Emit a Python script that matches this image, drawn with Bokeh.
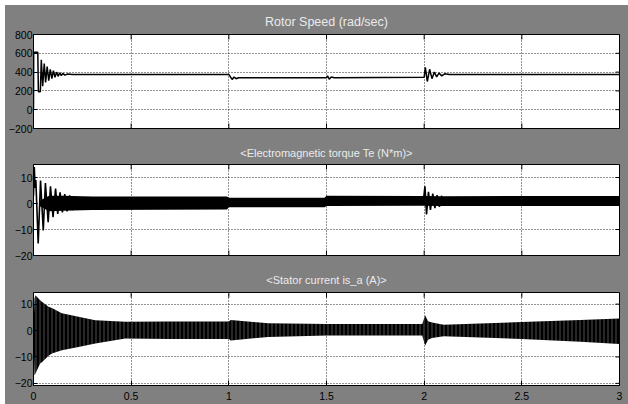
import math
from bokeh.plotting import figure
from bokeh.layouts import column
from bokeh.models import Range1d, FixedTicker, LinearAxis, Title, Grid
from bokeh.embed import file_html
from bokeh.resources import INLINE

# ---------------- data ----------------
x_ticks = [0, 0.5, 1, 1.5, 2, 2.5, 3]
x_tick_labels = ["0", "0.5", "1", "1.5", "2", "2.5", "3"]

titles = ["Rotor Speed (rad/sec)",
          "<Electromagnetic torque Te (N*m)>",
          "<Stator current is_a (A)>"]

speed_ticks = [-200, 0, 200, 400, 600, 800]
torque_ticks = [-20, -10, 0, 10]
current_ticks = [-20, -10, 0, 10]

# Rotor speed trace (s, rad/sec)
speed_t = [0, 0.001, 0.022, 0.025, 0.035, 0.04, 0.047, 0.055, 0.062, 0.07, 0.078,
           0.086, 0.094, 0.102, 0.11, 0.118, 0.126, 0.134, 0.142, 0.15, 0.16,
           0.175, 0.2, 1.0, 1.008, 1.017, 1.027, 1.037, 1.05, 1.5, 1.505, 1.514,
           1.525, 1.54, 2.0, 2.006, 2.016, 2.028, 2.04, 2.052, 2.064, 2.076,
           2.09, 2.105, 2.13, 3.0]
speed_w = [0, 610, 610, 190, 190, 530, 250, 490, 290, 460, 310,
           430, 330, 415, 345, 400, 355, 393, 362, 386, 368,
           380, 375, 375, 350, 322, 348, 330, 340, 340, 360, 325,
           348, 340, 345, 450, 300, 430, 330, 400, 350, 390,
           360, 382, 375, 375]

# Torque: large start-up swings (s, N*m)
torque_start_t = [0, 0.004, 0.008, 0.012, 0.024, 0.036, 0.05, 0.061, 0.075, 0.087,
                  0.1, 0.113, 0.124, 0.136, 0.148, 0.16, 0.172, 0.185, 0.2]
torque_start_v = [3, 14, 6, 9, -15.4, 8.8, -10.4, 7.9, -7.2, 6.6,
                  -5.3, 5.7, -4.0, 4.3, -3.4, 3.6, -3.0, 3.1, -2.6]
# Torque: transient at t = 2 s
torque_step_t = [1.998, 2.004, 2.012, 2.022, 2.032, 2.044, 2.055, 2.066, 2.078, 2.09]
torque_step_v = [2.5, 6.6, -4.2, 4.5, -2.5, 3.8, -1.8, 3.2, -1.3, 3.0]
# Torque: ripple band envelope
torque_band_t = [0.03, 0.08, 0.15, 0.3, 0.99, 1.0, 1.49, 1.5, 1.99, 2.07, 3.0]
torque_band_hi = [1.0, 3.0, 3.0, 2.7, 2.7, 2.2, 2.2, 3.0, 2.9, 2.8, 2.9]
torque_band_lo = [-1.0, -3.0, -2.8, -2.5, -2.3, -1.4, -1.4, -1.0, -0.9, -1.0, -1.0]

# Stator current envelope (s, A)
current_t = [0, 0.005, 0.01, 0.034, 0.043, 0.077, 0.094, 0.145, 0.23, 0.316, 0.47,
             0.7, 1.0, 1.01, 1.2, 1.5, 1.99, 2.005, 2.02, 2.04, 2.1, 2.5, 2.8, 3.0]
current_hi = [0, 12, 13.4, 11.5, 10.9, 9.0, 8.5, 6.5, 5.2, 3.9, 3.3,
              3.4, 3.4, 4.0, 2.8, 2.5, 2.5, 5.7, 3.5, 3.0, 2.2, 3.2, 4.0, 4.6]
current_lo = [0, -17, -16.3, -12.5, -12, -9.5, -8.7, -7.5, -6.2, -4.9, -3.0,
              -3.2, -3.2, -3.8, -2.4, -1.9, -1.9, -5.7, -3.5, -2.8, -2.2, -3.2, -4.2, -5.1]

# ---------------- styling helpers ----------------
FONT = "'Liberation Sans'"
GRAY = "#808080"


def make_panel(title, yr, yticks, height, top, bottom, show_x_labels, title_size, standoff):
    p = figure(width=623, height=height, output_backend="svg", toolbar_location=None,
               x_range=Range1d(0, 3), y_range=Range1d(*yr),
               x_axis_type=None, y_axis_type=None,
               min_border_left=28, min_border_right=9,
               min_border_top=top, min_border_bottom=bottom)
    p.background_fill_color = "white"
    p.border_fill_color = GRAY
    p.outline_line_color = "black"
    p.outline_line_width = 1

    p.title = Title(text=title, align="center", text_color="#ebebeb",
                    text_font=FONT, text_font_style="normal",
                    text_font_size=title_size, standoff=standoff,
                    vertical_align="bottom")

    # left axis with labels, ticks pointing inside
    ax = LinearAxis(ticker=FixedTicker(ticks=yticks))
    ax.major_tick_in = 4
    ax.major_tick_out = 0
    ax.minor_tick_in = 0
    ax.minor_tick_out = 0
    ax.axis_line_color = None
    ax.axis_label_standoff = 0
    ax.major_label_text_font = FONT
    ax.major_label_text_font_size = "10.5px"
    ax.major_label_text_color = "black"
    ax.major_label_standoff = 1
    p.add_layout(ax, "left")

    if show_x_labels:
        bx = LinearAxis(ticker=FixedTicker(ticks=x_ticks))
        bx.major_label_overrides = {t: s for t, s in zip(x_ticks, x_tick_labels)}
        bx.major_tick_in = 5
        bx.major_tick_out = 0
        bx.minor_tick_in = 0
        bx.minor_tick_out = 0
        bx.axis_line_color = None
        bx.axis_label_standoff = 0
        bx.major_label_text_font = FONT
        bx.major_label_text_font_size = "10.5px"
        bx.major_label_text_color = "black"
        bx.major_label_standoff = 6
        p.add_layout(bx, "below")
    else:
        # inner ticks on the bottom edge (clipped to the frame)
        p.scatter(x=x_ticks, y=[yr[0]] * len(x_ticks), marker="dash",
                  angle=math.pi / 2, size=10, line_color="black", line_width=1)
    # inner ticks on top and right edges (clipped to the frame)
    p.scatter(x=x_ticks, y=[yr[1]] * len(x_ticks), marker="dash",
              angle=math.pi / 2, size=10, line_color="black", line_width=1)
    p.scatter(x=[3] * len(yticks), y=yticks, marker="dash",
              size=8, line_color="black", line_width=1)

    for dim, ticks in ((0, x_ticks), (1, yticks)):
        g = Grid(dimension=dim, ticker=FixedTicker(ticks=ticks))
        g.grid_line_color = "black"
        g.grid_line_dash = "1 2"
        g.grid_line_alpha = 0.85
        p.add_layout(g)
    return p


p1 = make_panel(titles[0], (-200, 800), speed_ticks, 132, 29, 9, False, "12.5px", 12)
p1.line(speed_t, speed_w, line_color="black", line_width=1.5)

p2 = make_panel(titles[1], (-20, 15), torque_ticks, 127, 27, 9, False, "11px", 12)
p2.varea(x=torque_band_t, y1=torque_band_lo, y2=torque_band_hi, fill_color="black")
p2.line(torque_start_t, torque_start_v, line_color="black", line_width=1.6)
p2.line(torque_step_t, torque_step_v, line_color="black", line_width=1.6)

p3 = make_panel(titles[2], (-20.8, 14.4), current_ticks, 140, 28, 19, True, "11px", 13)
p3.varea(x=current_t, y1=current_lo, y2=current_hi, fill_color="black",
         hatch_pattern="|", hatch_color="white", hatch_alpha=0.3,
         hatch_scale=4, hatch_weight=1)

layout = column(p1, p2, p3, spacing=0, margin=(5, 0, 0, 5))
layout.styles = {"background-color": GRAY}

open("out.html", "w").write(file_html(layout, INLINE))
